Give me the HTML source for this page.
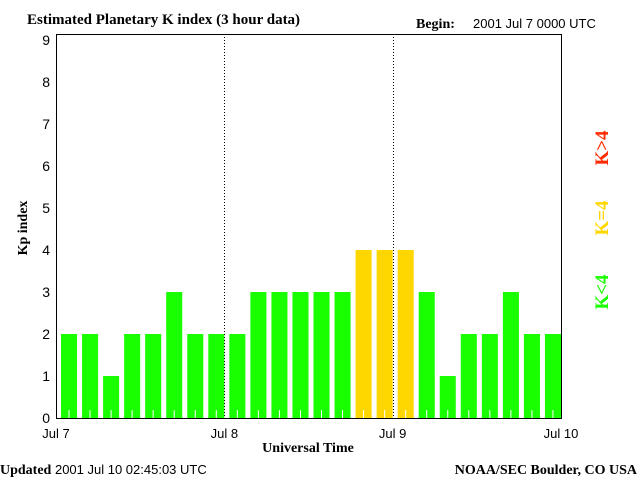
<!DOCTYPE html>
<html><head><meta charset="utf-8"><style>
body{margin:0;background:#fff;width:640px;height:480px;overflow:hidden}
svg{display:block}
.serif{font-family:"Liberation Serif",serif;font-weight:bold}
.sans{font-family:"Liberation Sans",sans-serif}
</style></head><body>
<svg id="chart" width="640" height="480" xmlns="http://www.w3.org/2000/svg">
<text class="serif" x="27" y="24" font-size="15">Estimated Planetary K index (3 hour data)</text>
<text class="serif" x="416" y="28" font-size="14">Begin:</text>
<text class="sans" x="473" y="28" font-size="13">2001 Jul 7 0000 UTC</text>
<text class="serif" transform="translate(27,228) rotate(-90)" text-anchor="middle" font-size="14">Kp index</text>
<text class="serif" x="308" y="452" text-anchor="middle" font-size="14">Universal Time</text>
<text x="0" y="474" font-size="14"><tspan class="serif">Updated</tspan><tspan class="sans" font-size="13"> 2001 Jul 10 02:45:03 UTC</tspan></text>
<text class="serif" x="637" y="474" text-anchor="end" font-size="14">NOAA/SEC Boulder, CO USA</text>
<text class="serif" transform="translate(608,148) rotate(-90)" text-anchor="middle" font-size="19" fill="#ff2a00">K&gt;4</text>
<text class="serif" transform="translate(608,218) rotate(-90)" text-anchor="middle" font-size="19" fill="#ffd700">K=4</text>
<text class="serif" transform="translate(608,292) rotate(-90)" text-anchor="middle" font-size="19" fill="#1aff00">K&lt;4</text>
<g id="plot"></g>
</svg>
<script>
const kpValues=[2,2,1,2,2,3,2,2, 2,3,3,3,3,3,4,4, 4,3,1,2,2,3,2,2];
const yTicks=[0,1,2,3,4,5,6,7,8,9];
const dayLabels=["Jul 7","Jul 8","Jul 9","Jul 10"];
const X0=56,X1=561,Y0=418,YT=34,NB=24;
const bw=(X1-X0)/NB;
const xs=i=>X0+i*bw;
const ys=v=>Y0-42*v;
const NS="http://www.w3.org/2000/svg";
const g=document.getElementById('plot');
function mk(t,a){const e=document.createElementNS(NS,t);for(const k in a)e.setAttribute(k,a[k]);g.appendChild(e);return e;}
kpValues.forEach((v,i)=>{
  const c=v<4?'#1aff00':(v==4?'#ffd700':'#ff2a00');
  const r=mk('rect',{x:xs(i)+5,y:ys(v),width:bw-5,height:Y0-ys(v),fill:c});
  
  
  const t=mk('line',{x1:xs(i)+13,x2:xs(i)+13,y1:Y0-8,y2:Y0,stroke:'#fff','stroke-width':1});
  
  
});
for(let d=1;d<dayLabels.length-1;d++){
  const x=Math.round(xs(d*8))+0.5;
  const l=mk('line',{x1:x,x2:x,y1:YT,y2:Y0,stroke:'#000','stroke-dasharray':'1,2'});
  
  
}
const fr=mk('rect',{x:X0+0.5,y:YT+0.5,width:X1-X0,height:Y0-YT,fill:'none',stroke:'#000'});


yTicks.forEach(v=>{
  const t=mk('text',{x:50,y:ys(v)+5,'text-anchor':'end','font-size':14,'font-family':'Liberation Sans, sans-serif'});
  t.textContent=v;
  
  
});
dayLabels.forEach((s,d)=>{
  const t=mk('text',{x:xs(d*8),y:438,'text-anchor':'middle','font-size':13,'font-family':'Liberation Sans, sans-serif'});
  t.textContent=s;
  
  
});
</script>
</body></html>
